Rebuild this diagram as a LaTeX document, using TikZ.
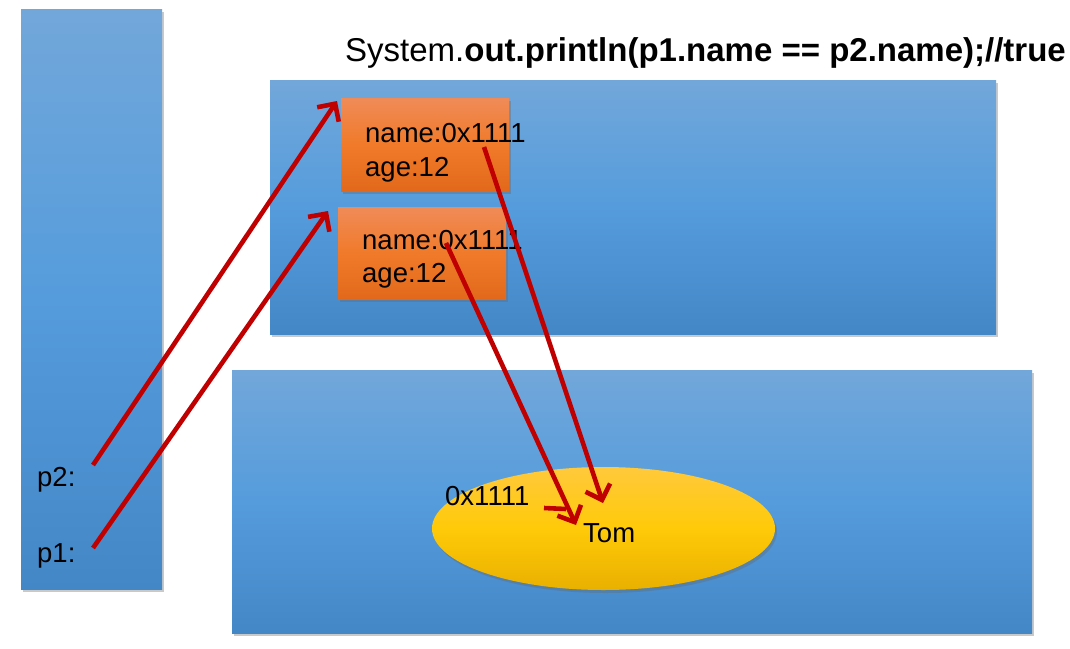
\documentclass[tikz,border=0pt]{standalone}
\usepackage{fontspec}
\setmainfont{Liberation Sans}
\usetikzlibrary{arrows.meta,shadows,shapes.geometric,calc}
\definecolor{btop}{HTML}{72A7DA}
\definecolor{bmid}{HTML}{559CDC}
\definecolor{bbot}{HTML}{4487C7}
\definecolor{otop}{HTML}{F08B58}
\definecolor{omid}{HTML}{F07A2A}
\definecolor{obot}{HTML}{E2691B}
\definecolor{ytop}{HTML}{FFC93C}
\definecolor{ymid}{HTML}{FFCA08}
\definecolor{ybot}{HTML}{E9B000}
\definecolor{arr}{HTML}{C00000}
\tikzset{
  shad/.style={drop shadow={shadow xshift=2pt,shadow yshift=-3pt,opacity=0.35,fill=black!60}},
  bluebox/.style={rectangle,draw=none,top color=btop,bottom color=bbot,middle color=bmid,shad,inner sep=0},
  objbox/.style={rectangle,draw=none,top color=otop,bottom color=obot,middle color=omid,shad,inner sep=0},
  txt/.style={inner sep=0,anchor=base west,font=\fontsize{27.5}{32}\selectfont},
  ref/.style={draw=arr,line width=4.6pt,-{Straight Barb[length=13pt,width=26pt,line width=4.6pt]}},
  refline/.style={draw=arr,line width=4.6pt}
}
\begin{document}
\begin{tikzpicture}[x=1pt,y=-1pt]
\useasboundingbox[fill=white] (0,0) rectangle (1070,648);
% boxes
\node[bluebox,minimum width=141,minimum height=580] (stack) at (91.5,299) {};
\node[bluebox,minimum width=726,minimum height=254] (heap) at (633,207) {};
\node[bluebox,minimum width=800,minimum height=263] (pool) at (632,501.5) {};
\node[objbox,minimum width=168,minimum height=93] (obj1) at (425,144.5) {};
\node[objbox,minimum width=168,minimum height=92] (obj2) at (422,253) {};
\node[ellipse,draw=none,top color=ytop,bottom color=ybot,middle color=ymid,shad,minimum width=343,minimum height=123,inner sep=0] (str) at (603.5,528.5) {};
% title
\node[inner sep=0,anchor=base west,font=\fontsize{33}{36}\selectfont] (title) at (345,61) {System.\textbf{out.println(p1.name == p2.name);//true}};
% texts
\node[txt] (n1) at (365,142) {name:0x1111};
\node[txt] (a1) at (365,176) {age:12};
\node[txt] (n2) at (362,249) {name:0x1111};
\node[txt] (a2) at (362,282) {age:12};
\node[txt] (p2) at (37,486) {p2:};
\node[txt] (p1) at (37,562) {p1:};
\node[txt] (addr) at (445,505) {0x1111};
\node[txt] (tom) at (583,542) {Tom};
% connectors
\coordinate (p2s) at (93,465);
\coordinate (p2e) at (337,101);
\coordinate (p1s) at (93,548);
\coordinate (p1e) at (328,211);
\coordinate (n1s) at (484,147);
\coordinate (n1e) at (603,503);
\coordinate (n2s) at (446,243);
\coordinate (n2e) at (576,525);
\coordinate (as) at (544,508);
\coordinate (ae) at (566,509);
\draw[ref] (p2s) -- (p2e);
\draw[ref] (p1s) -- (p1e);
\draw[ref] (n1s) -- (n1e);
\draw[ref] (n2s) -- (n2e);
\draw[refline] (as) -- (ae);
\end{tikzpicture}
\end{document}
